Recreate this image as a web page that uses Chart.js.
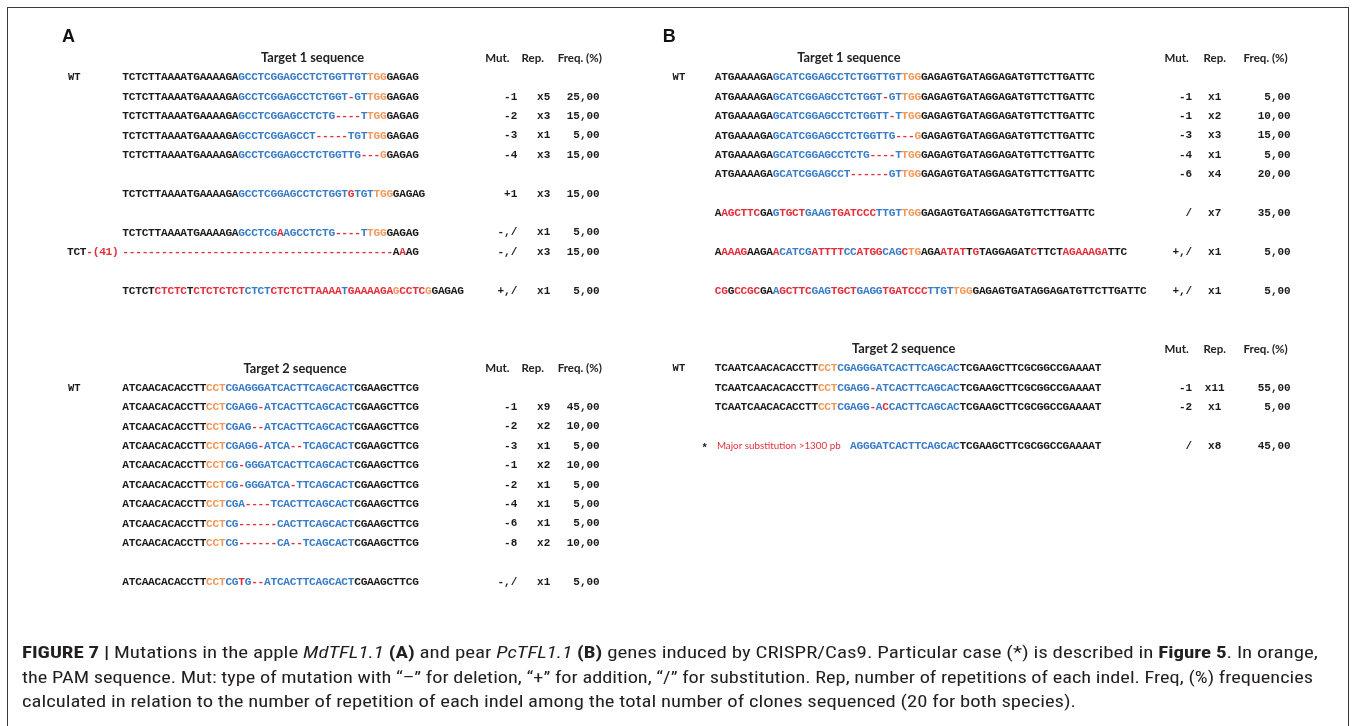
<!DOCTYPE html>
<html>
<head>
<meta charset="utf-8">
<script src="https://cdn.jsdelivr.net/npm/chart.js@4.4.1/dist/chart.umd.min.js"></script>
<style>
    html, body { margin: 0; padding: 0; background: #fff; overflow: hidden; }
    #wrap { position: relative; width: 1357px; height: 726px; }
    #fig { position: absolute; left: 0; top: 0; }
    #frame { position: absolute; left: 7px; top: 7px; width: 1342px; height: 780px; border: 1px solid #3a3a3a; box-sizing: border-box; }
    #caption { position: absolute; left: 22px; top: 640px; font-family: 'Liberation Sans Narrow', 'Roboto Condensed', 'Liberation Sans', Arial, sans-serif; font-size: 17px; line-height: 24.5px; color: #231f20; white-space: nowrap; }
    #caption .ln { display: block; transform-origin: 0 0; width: max-content; }
    #caption b { font-weight: bold; }
</style>
</head>
<body>
<div id="wrap">
    <canvas id="fig" width="1357" height="726"></canvas>
    <div id="frame"></div>
    <div id="caption">
        <span class="ln"><b>FIGURE 7 |</b> Mutations in the apple <i>MdTFL1.1</i> <b>(A)</b> and pear <i>PcTFL1.1</i> <b>(B)</b> genes induced by CRISPR/Cas9. Particular case (*) is described in <b>Figure 5</b>. In orange,</span>
        <span class="ln">the PAM sequence. Mut: type of mutation with “–” for deletion, “+” for addition, “/” for substitution. Rep, number of repetitions of each indel. Freq, (%) frequencies</span>
        <span class="ln">calculated in relation to the number of repetition of each indel among the total number of clones sequenced (20 for both species).</span>
    </div>
</div>
<script>
// colour codes: k black, b blue (target), o orange (PAM), r red (mutation)
// panel A, target 1
const seqA1 = [
    'k:TCTCTTAAAATGAAAAGA|b:GCCTCGGAGCCTCTGGTTGT|o:TGG|k:GAGAG',
    'k:TCTCTTAAAATGAAAAGA|b:GCCTCGGAGCCTCTGGT|r:-|b:GT|o:TGG|k:GAGAG',
    'k:TCTCTTAAAATGAAAAGA|b:GCCTCGGAGCCTCTG|r:----|b:T|o:TGG|k:GAGAG',
    'k:TCTCTTAAAATGAAAAGA|b:GCCTCGGAGCCT|r:-----|b:TGT|o:TGG|k:GAGAG',
    'k:TCTCTTAAAATGAAAAGA|b:GCCTCGGAGCCTCTGGTTG|r:---|o:G|k:GAGAG',
    'k:TCTCTTAAAATGAAAAGA|b:GCCTCGGAGCCTCTGGT|r:G|b:TGT|o:TGG|k:GAGAG',
    'k:TCTCTTAAAATGAAAAGA|b:GCCTCG|r:A|b:AGCCTCTG|r:----|b:T|o:TGG|k:GAGAG',
    'r:------------------------------------------|k:A|r:A|k:AG',
    'k:TCTCT|r:CTCTC|k:T|r:CTCTCTCT|b:CTCT|r:CTCTCTTAAAA|b:T|r:GAAAAGA|o:G|r:CCTC|o:G|k:GAGAG'
];
const leadA1 = ['', '', '', '', '', '', '', 'k:TCT|r:-(41)', ''];
const mutA1 = ['', '-1', '-2', '-3', '-4', '+1', '-,/', '-,/', '+,/'];
const repA1 = ['', 'x5', 'x3', 'x1', 'x3', 'x3', 'x1', 'x3', 'x1'];
const freqA1 = [null, 25, 15, 5, 15, 15, 5, 15, 5];

// panel A, target 2
const seqA2 = [
    'k:ATCAACACACCTT|o:CCT|b:CGAGGGATCACTTCAGCACT|k:CGAAGCTTCG',
    'k:ATCAACACACCTT|o:CCT|b:CGAGG|r:-|b:ATCACTTCAGCACT|k:CGAAGCTTCG',
    'k:ATCAACACACCTT|o:CCT|b:CGAG|r:--|b:ATCACTTCAGCACT|k:CGAAGCTTCG',
    'k:ATCAACACACCTT|o:CCT|b:CGAGG|r:-|b:ATCA|r:--|b:TCAGCACT|k:CGAAGCTTCG',
    'k:ATCAACACACCTT|o:CCT|b:CG|r:-|b:GGGATCACTTCAGCACT|k:CGAAGCTTCG',
    'k:ATCAACACACCTT|o:CCT|b:CG|r:-|b:GGGATCA|r:-|b:TTCAGCACT|k:CGAAGCTTCG',
    'k:ATCAACACACCTT|o:CCT|b:CGA|r:----|b:TCACTTCAGCACT|k:CGAAGCTTCG',
    'k:ATCAACACACCTT|o:CCT|b:CG|r:------|b:CACTTCAGCACT|k:CGAAGCTTCG',
    'k:ATCAACACACCTT|o:CCT|b:CG|r:------|b:CA|r:--|b:TCAGCACT|k:CGAAGCTTCG',
    'k:ATCAACACACCTT|o:CCT|b:CG|r:T|b:G|r:--|b:ATCACTTCAGCACT|k:CGAAGCTTCG'
];
const mutA2 = ['', '-1', '-2', '-3', '-1', '-2', '-4', '-6', '-8', '-,/'];
const repA2 = ['', 'x9', 'x2', 'x1', 'x2', 'x1', 'x1', 'x1', 'x2', 'x1'];
const freqA2 = [null, 45, 10, 5, 10, 5, 5, 5, 10, 5];

// panel B, target 1
const tailB1 = 'GAGAGTGATAGGAGATGTTCTTGATTC';
const seqB1 = [
    'k:ATGAAAAGA|b:GCATCGGAGCCTCTGGTTGT|o:TGG|k:' + tailB1,
    'k:ATGAAAAGA|b:GCATCGGAGCCTCTGGT|r:-|b:GT|o:TGG|k:' + tailB1,
    'k:ATGAAAAGA|b:GCATCGGAGCCTCTGGTT|r:-|b:T|o:TGG|k:' + tailB1,
    'k:ATGAAAAGA|b:GCATCGGAGCCTCTGGTTG|r:---|o:G|k:' + tailB1,
    'k:ATGAAAAGA|b:GCATCGGAGCCTCTG|r:----|b:T|o:TGG|k:' + tailB1,
    'k:ATGAAAAGA|b:GCATCGGAGCCT|r:------|b:GT|o:TGG|k:' + tailB1,
    'k:A|r:AGCTTC|k:GA|b:G|r:TGCT|b:GAAG|r:TGATCCC|b:TTGT|o:TGG|k:' + tailB1,
    'k:A|r:AAAG|k:AAGA|r:A|b:CATCG|r:ATTTT|b:CC|r:ATGG|b:CAG|r:C|o:TG|k:AGA|r:ATAT|k:T|r:G|k:TAGGAGAT|r:C|k:TTCT|r:AGAAAGA|k:TTC',
    'r:CG|k:G|r:CCGC|k:GA|b:A|r:GCTTC|b:GAG|r:TGCT|b:GAGG|r:TGATCCC|b:TTGT|o:TGG|k:' + tailB1
];
const mutB1 = ['', '-1', '-1', '-3', '-4', '-6', '/', '+,/', '+,/'];
const repB1 = ['', 'x1', 'x2', 'x3', 'x1', 'x4', 'x7', 'x1', 'x1'];
const freqB1 = [null, 5, 10, 15, 5, 20, 35, 5, 5];

// panel B, target 2
const tailB2 = 'TCGAAGCTTCGCGGCCGAAAAT';
const seqB2 = [
    'k:TCAATCAACACACCTT|o:CCT|b:CGAGGGATCACTTCAGCAC|k:' + tailB2,
    'k:TCAATCAACACACCTT|o:CCT|b:CGAGG|r:-|b:ATCACTTCAGCAC|k:' + tailB2,
    'k:TCAATCAACACACCTT|o:CCT|b:CGAGG|r:-|b:A|r:C|b:CACTTCAGCAC|k:' + tailB2,
    'k:                     |b:AGGGATCACTTCAGCAC|k:' + tailB2
];
const noteB2 = ['', '', '', 'Major substitution >1300 pb'];
const mutB2 = ['', '-1', '-2', '/'];
const repB2 = ['', 'x11', 'x1', 'x8'];
const freqB2 = [null, 55, 5, 45];

const colHeaders = ['Mut.', 'Rep.', 'Freq. (%)'];

// ---- layout (x in character columns, y in text lines) ----
const CHAR_PX = 6.44, X0_PX = 122.5;      // column 0 of panel A
const LINE_PX = 19.4, Y0_PX = 77.5;       // line 0 (WT rows of target 1)
const X_MIN = -X0_PX / CHAR_PX, X_MAX = (1357 - X0_PX) / CHAR_PX;
const Y_MIN = -Y0_PX / LINE_PX, Y_MAX = (726 - Y0_PX) / LINE_PX;

const COLORS = { k: '#1a1a1a', b: '#3a7cc6', o: '#f0985a', r: '#e32f3b' };
const SEQ_FONT = 'bold 11.2px "Liberation Mono", monospace';
const NUM_FONT = 'bold 11px "Liberation Mono", monospace';
const HEAD_FONT = 'bold 12.8px Lato, "Open Sans", sans-serif';
const COLHEAD_FONT = 'bold 11.5px Lato, "Open Sans", sans-serif';

const panels = [
    { letter: 'A', off: 0, letterCol: -8.4, wtCol: -7.5,
      cols: { mut: 61.3, rep: 65.4, freq: 74.1, hMut: 58.2, hRep: 63.7, hFreq: 71.0 },
      blocks: [
        { title: 'Target 1 sequence', titleCol: 29.5, head: -1, lines: [0, 1, 2, 3, 4, 6, 8, 9, 11],
          seq: seqA1, lead: leadA1, mut: mutA1, rep: repA1, freq: freqA1 },
        { title: 'Target 2 sequence', titleCol: 26.8, head: 15, lines: [16, 17, 18, 19, 20, 21, 22, 23, 24, 26],
          seq: seqA2, mut: mutA2, rep: repA2, freq: freqA2 }
      ] },
    { letter: 'B', off: 92, letterCol: -7.1, wtCol: -5.6,
      cols: { mut: 74.1, rep: 77.6, freq: 89.4, hMut: 71.7, hRep: 77.6, hFreq: 85.5 },
      blocks: [
        { title: 'Target 1 sequence', titleCol: 20.8, head: -1, lines: [0, 1, 2, 3, 4, 5, 7, 9, 11],
          seq: seqB1, mut: mutB1, rep: repB1, freq: freqB1 },
        { title: 'Target 2 sequence', titleCol: 29.3, head: 14, lines: [15, 16, 17, 19],
          seq: seqB2, note: noteB2, mut: mutB2, rep: repB2, freq: freqB2 }
      ] }
];

function parseSeq(str) {
    return str.split('|').map(p => ({ c: p[0], t: p.slice(2) }));
}

function seqLength(str) {
    return parseSeq(str).reduce((n, s) => n + s.t.length, 0);
}

function drawSeq(ctx, xs, y, str, startCol) {
    let col = startCol;
    parseSeq(str).forEach(seg => {
        ctx.fillStyle = COLORS[seg.c];
        for (const ch of seg.t) {
            if (ch !== ' ') ctx.fillText(ch, xs.getPixelForValue(col + 0.5), y);
            col++;
        }
    });
}

function fmtFreq(v) {
    return v.toFixed(2).replace('.', ',');
}

const alignmentPlugin = {
    id: 'alignment',
    afterDraw(chart) {
        const ctx = chart.ctx;
        const xs = chart.scales.x, ys = chart.scales.y;
        ctx.save();
        ctx.textBaseline = 'middle';
        panels.forEach(p => {
            ctx.textAlign = 'center';
            ctx.fillStyle = '#111';
            ctx.font = 'bold 18px "Liberation Sans", Arial, sans-serif';
            ctx.fillText(p.letter, xs.getPixelForValue(p.off + p.letterCol), ys.getPixelForValue(-2.1));

            p.blocks.forEach(b => {
                const hy = ys.getPixelForValue(b.head);
                ctx.font = HEAD_FONT;
                ctx.fillStyle = '#222';
                ctx.textAlign = 'center';
                ctx.fillText(b.title, xs.getPixelForValue(p.off + b.titleCol), hy);
                ctx.font = COLHEAD_FONT;
                ctx.fillText(colHeaders[0], xs.getPixelForValue(p.off + p.cols.hMut), hy);
                ctx.fillText(colHeaders[1], xs.getPixelForValue(p.off + p.cols.hRep), hy);
                ctx.fillText(colHeaders[2], xs.getPixelForValue(p.off + p.cols.hFreq), hy);

                b.seq.forEach((s, i) => {
                    const y = ys.getPixelForValue(b.lines[i]);
                    ctx.textAlign = 'center';
                    if (i === 0) {
                        ctx.fillStyle = COLORS.k;
                        ctx.font = 'bold 10.5px "Liberation Mono", monospace';
                        ctx.fillText('WT', xs.getPixelForValue(p.off + p.wtCol), y);
                    }
                    ctx.font = SEQ_FONT;
                    if (b.lead && b.lead[i]) {
                        drawSeq(ctx, xs, y, b.lead[i], p.off - 0.6 - seqLength(b.lead[i]));
                    }
                    drawSeq(ctx, xs, y, s, p.off);
                    if (b.note && b.note[i]) {
                        ctx.fillStyle = COLORS.k;
                        ctx.font = 'bold 11px "Liberation Sans", sans-serif';
                        ctx.fillText('*', xs.getPixelForValue(p.off - 1.6), y + 2);
                        ctx.textAlign = 'left';
                        ctx.fillStyle = COLORS.r;
                        ctx.font = '9.8px Lato, "Open Sans", sans-serif';
                        ctx.fillText(b.note[i], xs.getPixelForValue(p.off + 0.3), y);
                    }
                    ctx.font = NUM_FONT;
                    ctx.fillStyle = COLORS.k;
                    if (b.mut[i]) {
                        ctx.textAlign = 'right';
                        ctx.fillText(b.mut[i], xs.getPixelForValue(p.off + p.cols.mut), y);
                    }
                    if (b.rep[i]) {
                        ctx.textAlign = 'center';
                        ctx.fillText(b.rep[i], xs.getPixelForValue(p.off + p.cols.rep), y);
                    }
                    if (b.freq[i] !== null) {
                        ctx.textAlign = 'right';
                        ctx.fillText(fmtFreq(b.freq[i]), xs.getPixelForValue(p.off + p.cols.freq), y);
                    }
                });
            });
        });
        ctx.restore();
    }
};

const chart = new Chart(document.getElementById('fig').getContext('2d'), {
    type: 'scatter',
    data: { datasets: [] },
    options: {
        responsive: false,
        animation: false,
        events: [],
        layout: { padding: 0 },
        plugins: { legend: { display: false }, tooltip: { enabled: false } },
        scales: {
            x: { type: 'linear', display: false, min: X_MIN, max: X_MAX },
            y: { type: 'linear', display: false, min: Y_MIN, max: Y_MAX, reverse: true }
        }
    },
    plugins: [alignmentPlugin]
});

// condense the caption so the first two (justified) lines fill the printed width
const lines = document.querySelectorAll('#caption .ln');
const k1 = 1296 / lines[0].getBoundingClientRect().width;
const k2 = 1291 / lines[1].getBoundingClientRect().width;
[k1, k2, (k1 + k2) / 2].forEach((k, i) => {
    lines[i].style.transform = 'scaleX(' + k + ')';
});
</script>
</body>
</html>
